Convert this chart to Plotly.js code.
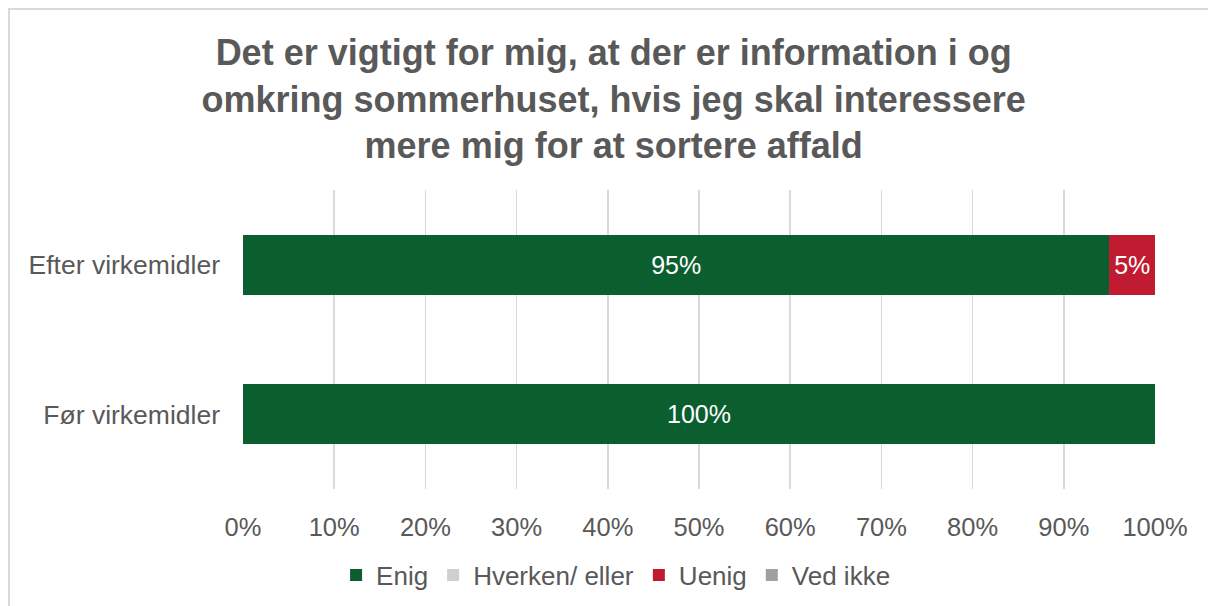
<!DOCTYPE html>
<html>
<head>
<meta charset="utf-8">
<script src="https://cdn.plot.ly/plotly-3.0.1.min.js"></script>
<style>
  html, body { margin: 0; padding: 0; background: #ffffff; }
  #wrap { position: relative; width: 1208px; height: 606px; overflow: hidden; }
  #chart { position: absolute; left: 0; top: 0; width: 1208px; height: 606px; }
  #frame { position: absolute; left: 8px; top: 8px; width: 1300px; height: 700px;
           border-left: 2px solid #d9d9d9; border-top: 2px solid #d9d9d9; pointer-events: none; }
</style>
</head>
<body>
<div id="wrap">
  <div id="chart"></div>
  <div id="frame"></div>
</div>
<script>
// Data (bottom category first)
const categories = ['Før virkemidler', 'Efter virkemidler'];
const seriesNames = ['Enig', 'Hverken/ eller', 'Uenig', 'Ved ikke'];
const enig = [100, 95];
const hverken = [0, 0];
const uenig = [0, 5];
const vedIkke = [0, 0];
const tickValues = [0, 10, 20, 30, 40, 50, 60, 70, 80, 90, 100];
const tickLabels = ['0%', '10%', '20%', '30%', '40%', '50%', '60%', '70%', '80%', '90%', '100%'];

const colors = ['#0B5F2F', '#D0CECE', '#C01B31', '#A0A0A0'];
const seriesValues = [enig, hverken, uenig, vedIkke];
const FONT = 'Liberation Sans, Arial, sans-serif';
const GRAY = '#595959';

const traces = seriesNames.map((name, i) => ({
  type: 'bar',
  orientation: 'h',
  name: name,
  y: categories,
  x: seriesValues[i],
  marker: { color: colors[i], line: { width: 0 } },
  text: seriesValues[i].map(v => v > 0 ? v + '%' : ''),
  textposition: 'inside',
  insidetextanchor: 'middle',
  textangle: 0,
  constraintext: 'none',
  insidetextfont: { family: FONT, size: 25, color: '#ffffff' },
  hoverinfo: 'skip'
}));

const layout = {
  width: 1208,
  height: 606,
  paper_bgcolor: '#ffffff',
  plot_bgcolor: '#ffffff',
  barmode: 'stack',
  bargap: 0.6,
  margin: { l: 243, r: 53, t: 190, b: 117, pad: 0 },
  font: { family: FONT, color: GRAY },
  title: {
    text: 'Det er vigtigt for mig, at der er information i og<br>omkring sommerhuset, hvis jeg skal interessere<br>mere mig for at sortere affald',
    font: { family: FONT, size: 36, color: GRAY, weight: 'bold' },
    x: 0.508,
    xref: 'container',
    xanchor: 'center',
    y: 0.893,
    yref: 'container',
    yanchor: 'top'
  },
  xaxis: {
    range: [0, 100],
    tickmode: 'array',
    tickvals: tickValues,
    ticktext: tickLabels,
    showgrid: true,
    gridcolor: '#d9d9d9',
    gridwidth: 1.5,
    zeroline: false,
    showline: false,
    ticks: '',
    ticklabelstandoff: 20,
    tickfont: { family: FONT, size: 25.5, color: GRAY },
    fixedrange: true
  },
  yaxis: {
    type: 'category',
    categoryorder: 'array',
    categoryarray: categories,
    showgrid: false,
    zeroline: false,
    showline: false,
    ticks: '',
    ticklabelstandoff: 22,
    tickfont: { family: FONT, size: 26.5, color: GRAY },
    fixedrange: true
  },
  showlegend: true,
  legend: {
    orientation: 'h',
    xref: 'container',
    yref: 'container',
    x: 0.510,
    xanchor: 'center',
    y: 0.051,
    yanchor: 'middle',
    traceorder: 'normal',
    font: { family: FONT, size: 26, color: GRAY },
    bgcolor: 'rgba(0,0,0,0)',
    itemclick: false,
    itemdoubleclick: false
  },
  hovermode: false
};

Plotly.newPlot('chart', traces, layout, { displayModeBar: false, staticPlot: true });
</script>
</body>
</html>
